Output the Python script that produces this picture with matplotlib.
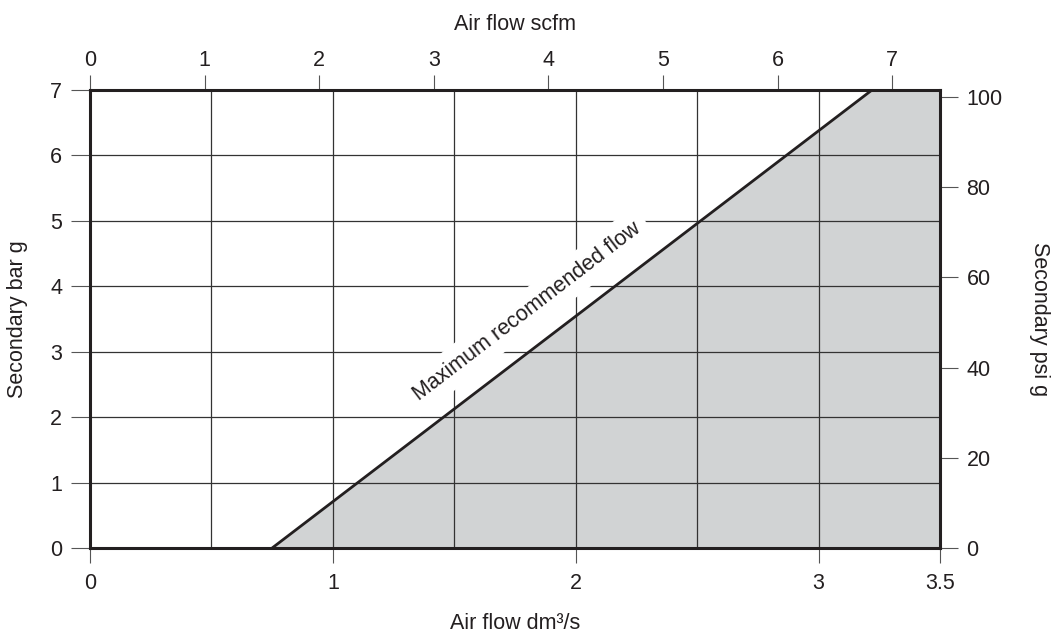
import matplotlib
matplotlib.use("Agg")
import matplotlib.pyplot as plt

plt.rcParams['font.family'] = ['Liberation Sans', 'DejaVu Sans']

# dados
grid_x = [0.5, 1.0, 1.5, 2.0, 2.5, 3.0]
grid_y = [1, 2, 3, 4, 5, 6]
ticks_dm3 = [0, 1, 2, 3, 3.5]
ticks_bar = [0, 1, 2, 3, 4, 5, 6, 7]
ticks_scfm = [0, 1, 2, 3, 4, 5, 6, 7]
ticks_psi = [0, 20, 40, 60, 80, 100]

# limite de vazao recomendada (dm3/s, bar g)
limite_x = [0.75, 3.22]
limite_y = [0.0, 7.0]
area_x = [0.75, 3.22, 3.5]
area_y = [0.0, 7.0, 7.0]

SCFM = 2.11888   # 1 dm3/s em scfm
PSI = 14.5038    # 1 bar em psi

cor = '#231f20'
fs = 15.5

fig = plt.figure(figsize=(10.51, 6.33), dpi=100)
ax = fig.add_axes([90/1051, 1-548/633, (940-90)/1051, (548-90)/633])

ax.fill_between(area_x, area_y, 0, color='#d1d3d4', lw=0, zorder=1)
for gx in grid_x:
    ax.axvline(gx, color='#333333', lw=0.9, zorder=2)
for gy in grid_y:
    ax.axhline(gy, color='#333333', lw=0.9, zorder=2)
ax.plot(limite_x, limite_y, color=cor, lw=2.0, zorder=4, solid_capstyle='butt')

ax.text(1.80, 3.62, 'Maximum recommended flow', rotation=37.4, rotation_mode='anchor',
        ha='center', va='center', fontsize=fs, color=cor, zorder=3,
        bbox=dict(facecolor='white', edgecolor='none', pad=6))

ax.set_xlim(0, 3.5)
ax.set_ylim(0, 7)
for s in ax.spines.values():
    s.set_linewidth(2.2)
    s.set_color(cor)
    s.set_zorder(5)

ax.set_xticks(ticks_dm3)
ax.set_xticklabels(['0', '1', '2', '3', '3.5'])
ax.set_yticks(ticks_bar)
ax.tick_params(axis='x', direction='out', length=11, width=0.8, color='#555555',
               labelsize=fs, labelcolor=cor, pad=7)
ax.tick_params(axis='y', direction='out', length=14, width=0.8, color='#555555',
               labelsize=fs, labelcolor=cor, pad=6)
ax.set_xlabel('Air flow dm³/s', fontsize=fs, color=cor, labelpad=14)
ax.set_ylabel('Secondary bar g', fontsize=fs, color=cor, labelpad=16)

topo = ax.secondary_xaxis('top', functions=(lambda v: v * SCFM, lambda v: v / SCFM))
topo.set_xticks(ticks_scfm)
topo.tick_params(direction='out', length=11, width=0.8, color='#555555',
                 labelsize=fs, labelcolor=cor, pad=3)
topo.set_xlabel('Air flow scfm', fontsize=fs, color=cor, labelpad=14)
topo.spines['top'].set_visible(False)

dir_ = ax.secondary_yaxis('right', functions=(lambda v: v * PSI, lambda v: v / PSI))
dir_.set_yticks(ticks_psi)
dir_.tick_params(direction='out', length=13, width=0.8, color='#555555',
                 labelsize=fs, labelcolor=cor, pad=6)
dir_.set_ylabel('Secondary psi g', fontsize=fs, color=cor, rotation=-90, labelpad=34)
dir_.spines['right'].set_visible(False)

fig.savefig('out.png', dpi=100)
